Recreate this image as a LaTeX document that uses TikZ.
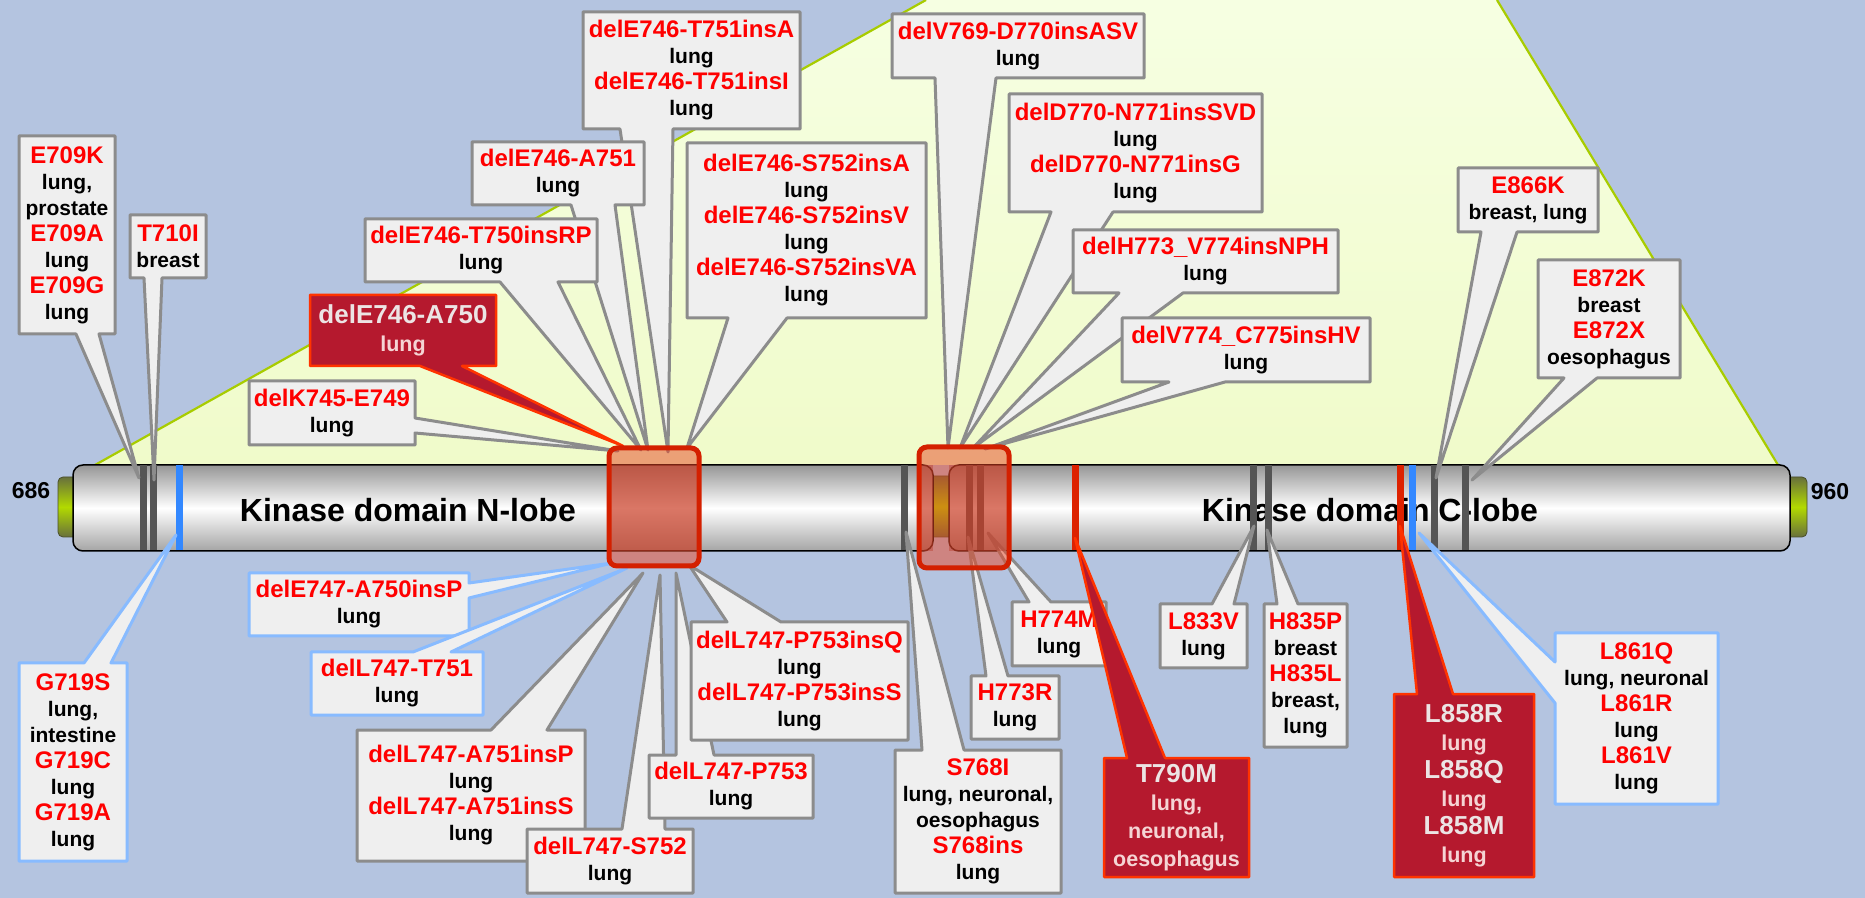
\documentclass[tikz,border=0pt]{standalone}
\usepackage{fontspec}
\setmainfont{Liberation Sans}
\definecolor{bgblue}{RGB}{180,196,224}
\definecolor{hilite}{RGB}{240,251,202}
\definecolor{hilitetop}{RGB}{246,255,226}
\definecolor{hiliteedge}{RGB}{168,204,0}
\definecolor{boxfill}{RGB}{239,239,239}
\definecolor{boxline}{RGB}{140,140,140}
\definecolor{blueline}{RGB}{136,187,255}
\definecolor{dkfill}{RGB}{181,25,46}
\definecolor{dkline}{RGB}{255,51,0}
\definecolor{mred}{RGB}{255,0,0}
\definecolor{dktitle}{RGB}{236,228,228}
\definecolor{dkbody}{RGB}{245,212,212}
\definecolor{stripegrey}{RGB}{85,85,85}
\definecolor{stripeblue}{RGB}{51,136,255}
\definecolor{stripered}{RGB}{221,34,0}
\definecolor{barmid}{RGB}{150,150,150}
\definecolor{barlow}{RGB}{165,165,165}
\definecolor{capdark}{RGB}{104,112,60}
\definecolor{capbright}{RGB}{178,218,0}
\definecolor{boxred}{RGB}{212,32,0}
\definecolor{boxtint}{RGB}{232,70,36}
\definecolor{bandtint}{RGB}{130,40,40}

% mutation name lines
\newcommand\redtitle[1]{{\color{mred}\fontsize{12}{13}\selectfont #1}}
\newcommand\paletitle[1]{{\color{dktitle}\fontsize{13}{14}\selectfont #1}}

% callout box (x1,y1)-(x2,y2) with a wedge leaving the bottom / top / right / left edge
\newcommand\calloutB[9]{\path[#1] (#2,#3) -- (#4,#3) -- (#4,#5) -- (#7,#5) -- #8 -- (#6,#5) -- (#2,#5) -- cycle;
  \coordinate (#9) at ({(#2+#4)/2},{(#3+#5)/2});}
\newcommand\calloutT[9]{\path[#1] (#2,#3) -- (#6,#3) -- #8 -- (#7,#3) -- (#4,#3) -- (#4,#5) -- (#2,#5) -- cycle;
  \coordinate (#9) at ({(#2+#4)/2},{(#3+#5)/2});}
\newcommand\calloutR[9]{\path[#1] (#2,#3) -- (#4,#3) -- (#4,#6) -- #8 -- (#4,#7) -- (#4,#5) -- (#2,#5) -- cycle;
  \coordinate (#9) at ({(#2+#4)/2},{(#3+#5)/2});}
\newcommand\calloutL[9]{\path[#1] (#2,#3) -- (#4,#3) -- (#4,#5) -- (#2,#5) -- (#2,#7) -- #8 -- (#2,#6) -- cycle;
  \coordinate (#9) at ({(#2+#4)/2},{(#3+#5)/2});}

\begin{document}
\begin{tikzpicture}[x=0.5pt,y=-0.5pt,
  txt/.style={align=center,inner sep=0pt,font=\bfseries\fontsize{10.5}{13}\selectfont},
  dtxt/.style={align=center,inner sep=0pt,text=dkbody,font=\bfseries\fontsize{10.75}{14}\selectfont},
  grey callout/.style={fill=boxfill,draw=boxline,line width=1.5pt,line join=round},
  blue callout/.style={fill=boxfill,draw=blueline,line width=1.5pt,line join=round},
  dark callout/.style={fill=dkfill,draw=dkline,line width=1.25pt,line join=round},
  barpiece/.style={draw=black,line width=0.75pt,rounded corners=5pt,top color=barmid,bottom color=barlow,middle color=white},
  endcap/.style={draw=capdark!70!black,line width=0.4pt,rounded corners=2.5pt,top color=capdark,bottom color=capdark,middle color=capbright},
  region/.style={draw=boxred,line width=2.5pt,rounded corners=4pt,fill=boxtint,fill opacity=0.5,draw opacity=1},
  band/.style={fill=bandtint,fill opacity=0.4},
  lobe/.style={font=\bfseries\fontsize{16}{18}\selectfont},
  endlabel/.style={font=\bfseries\fontsize{11.5}{13}\selectfont}]

\useasboundingbox (0,0) rectangle (1865,898);
\fill[bgblue] (0,0) rectangle (1865,898);

% highlighted kinase region above the bar
\shade[top color=hilitetop,bottom color=hilite] (926,0) -- (1497,0) -- (1778,465) -- (95,465) -- cycle;
\draw[hiliteedge,line width=1.1pt] (926,0) -- (95,465);
\draw[hiliteedge,line width=1.1pt] (1497,0) -- (1778,465);

% end caps and the linker inside the C-helix region
\path[endcap] (58,477) rectangle (82,537);
\path[endcap] (1783,477) rectangle (1807,537);
\path[endcap] (926,476) rectangle (956,537);

% the kinase domain cylinder, split at the C-helix
\path[barpiece] (73,465) rectangle (933,551);
\path[barpiece] (949,465) rectangle (1790,551);

\node[lobe] (nlobe) at (408,510) {Kinase domain N-lobe};
\node[lobe] (clobe) at (1370,510) {Kinase domain C-lobe};

% residue marks on the cylinder
\foreach \x in {143,153.5,904,969.5,980.5,1253.5,1268,1434.5,1465}
  \fill[stripegrey] (\x-3.5,465.5) rectangle (\x+3.5,550.5);
\foreach \x in {179,1412.5}
  \fill[stripeblue] (\x-3.5,465.5) rectangle (\x+3.5,550.5);
\foreach \x in {1075.5,1400}
  \fill[stripered] (\x-3.5,465.5) rectangle (\x+3.5,550.5);

\node[endlabel] (start) at (31,491) {686};
\node[endlabel] (end) at (1830,492) {960};

% ---- callouts above the cylinder ----
\calloutB{grey callout}{19}{136}{115}{334}{76}{99}{(139,478)}{e709}
\node[txt] (e709t) at (e709) {\redtitle{E709K}\\lung,\\prostate\\\redtitle{E709A}\\lung\\\redtitle{E709G}\\lung};

\calloutB{grey callout}{130}{215}{206}{278}{144}{162}{(154,480)}{t710}
\node[txt] (t710t) at (t710) {\redtitle{T710I}\\breast};

\calloutB{grey callout}{583}{12}{800}{129}{620}{673}{(668,452)}{t751ins}
\node[txt] (t751inst) at (t751ins) {\redtitle{delE746-T751insA}\\lung\\\redtitle{delE746-T751insI}\\lung};

\calloutB{grey callout}{472}{142}{644}{205}{571}{615}{(648,450)}{a751}
\node[txt] (a751t) at (a751) {\redtitle{delE746-A751}\\lung};

\calloutB{grey callout}{365}{219}{597}{282}{500}{558}{(641,450)}{rp}
\node[txt] (rpt) at (rp) {\redtitle{delE746-T750insRP}\\lung};

\calloutR{grey callout}{249}{381}{415}{445}{418}{433}{(618,451)}{k745}
\node[txt] (k745t) at (k745) {\redtitle{delK745-E749}\\lung};

\calloutB{dark callout}{310}{295}{496}{366}{420}{462}{(623,446)}{a750}
\node[dtxt] (a750t) at (a750) {\paletitle{delE746-A750}\\lung};

\calloutB{grey callout}{687}{143}{926}{318}{728}{787}{(687,448)}{s752}
\node[txt] (s752t) at (s752) {\redtitle{delE746-S752insA}\\lung\\\redtitle{delE746-S752insV}\\lung\\\redtitle{delE746-S752insVA}\\lung};

\calloutB{grey callout}{892}{14}{1144}{78}{935}{996}{(948,448)}{v769}
\node[txt] (v769t) at (v769) {\redtitle{delV769-D770insASV}\\lung};

\calloutB{grey callout}{1009}{94}{1262}{212}{1051}{1113}{(960,448)}{d770}
\node[txt] (d770t) at (d770) {\redtitle{delD770-N771insSVD}\\lung\\\redtitle{delD770-N771insG}\\lung};

\calloutB{grey callout}{1073}{230}{1338}{293}{1119}{1183}{(973,448)}{h773}
\node[txt] (h773t) at (h773) {\redtitle{delH773\_V774insNPH}\\lung};

\calloutB{grey callout}{1122}{318}{1370}{382}{1169}{1225}{(985,449)}{v774}
\node[txt] (v774t) at (v774) {\redtitle{delV774\_C775insHV}\\lung};

\calloutB{grey callout}{1458}{168}{1598}{232}{1481}{1517}{(1436,478)}{e866}
\node[txt] (e866t) at (e866) {\redtitle{E866K}\\breast, lung};

\calloutB{grey callout}{1538}{260}{1680}{378}{1564}{1597}{(1472,480)}{e872}
\node[txt] (e872t) at (e872) {\redtitle{E872K}\\breast\\\redtitle{E872X}\\oesophagus};

% ---- callouts below the cylinder ----
\calloutT{blue callout}{19}{663}{127}{861}{84}{111}{(176,535)}{g719}
\node[txt] (g719t) at (g719) {\redtitle{G719S}\\lung,\\intestine\\\redtitle{G719C}\\lung\\\redtitle{G719A}\\lung};

\calloutR{blue callout}{249}{573}{469}{636}{583}{598}{(612,563)}{insp}
\node[txt] (inspt) at (insp) {\redtitle{delE747-A750insP}\\lung};

\calloutT{blue callout}{311}{652}{483}{715}{413}{451}{(627,568)}{t751}
\node[txt] (t751t) at (t751) {\redtitle{delL747-T751}\\lung};

\calloutT{grey callout}{357}{730}{585}{861}{491}{547}{(643,573)}{a751ins}
\node[txt] (a751inst) at (a751ins) {\redtitle{delL747-A751insP}\\lung\\\redtitle{delL747-A751insS}\\lung};

\calloutT{grey callout}{527}{829}{693}{893}{622}{665}{(660,575)}{s752b}
\node[txt] (s752bt) at (s752b) {\redtitle{delL747-S752}\\lung};

\calloutT{grey callout}{649}{755}{813}{818}{676}{714}{(676,573)}{p753}
\node[txt] (p753t) at (p753) {\redtitle{delL747-P753}\\lung};

\calloutT{grey callout}{691}{622}{908}{740}{727}{781}{(689,565)}{p753ins}
\node[txt] (p753inst) at (p753ins) {\redtitle{delL747-P753insQ}\\lung\\\redtitle{delL747-P753insS}\\lung};

\calloutT{grey callout}{895}{750}{1061}{893}{922}{964}{(906,532)}{s768}
\node[txt] (s768t) at (s768) {\redtitle{S768I}\\lung, neuronal,\\oesophagus\\\redtitle{S768ins}\\lung};

\calloutT{grey callout}{971}{676}{1059}{739}{986}{1008}{(968,537)}{h773r}
\node[txt] (h773rt) at (h773r) {\redtitle{H773R}\\lung};

\calloutT{grey callout}{1012}{602}{1106}{666}{1029}{1051}{(988,533)}{h774m}
\node[txt] (h774mt) at (h774m) {\redtitle{H774M}\\lung};

\calloutT{dark callout}{1104}{758}{1249}{877}{1127}{1165}{(1075,538)}{t790m}
\node[dtxt] (t790mt) at (t790m) {\paletitle{T790M}\\lung,\\neuronal,\\oesophagus};

\calloutT{grey callout}{1160}{604}{1247}{668}{1212}{1234}{(1254,526)}{l833v}
\node[txt] (l833vt) at (l833v) {\redtitle{L833V}\\lung};

\calloutT{grey callout}{1264}{604}{1347}{747}{1277}{1298}{(1267,530)}{h835}
\node[txt] (h835t) at (h835) {\redtitle{H835P}\\breast\\\redtitle{H835L}\\breast,\\lung};

\calloutT{dark callout}{1394}{694}{1534}{877}{1417}{1453}{(1400,526)}{l858}
\node[dtxt] (l858t) at (l858) {\paletitle{L858R}\\lung\\\paletitle{L858Q}\\lung\\\paletitle{L858M}\\lung};

\calloutL{blue callout}{1555}{633}{1718}{804}{662}{703}{(1419,533)}{l861}
\node[txt] (l861t) at (l861) {\redtitle{L861Q}\\lung, neuronal\\\redtitle{L861R}\\lung\\\redtitle{L861V}\\lung};

% translucent frames over the deletion / insertion hot spots
\fill[band] (609,465) rectangle (699,551);
\fill[band] (919,465) rectangle (933,551);
\fill[band] (949,465) rectangle (1009,551);
\path[region] (609,448) rectangle (699,566);
\path[region] (919,447) rectangle (1009,568);

\end{tikzpicture}
\end{document}
